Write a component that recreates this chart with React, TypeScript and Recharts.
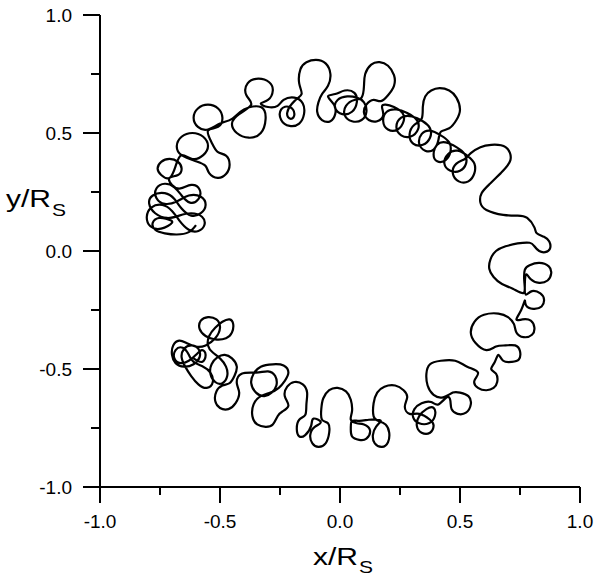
import React from "react";
import { LineChart, Line, XAxis, YAxis } from "recharts";

// trajectory, in units of R_S, start = upper-left knot
const upperKnot: [number, number][] = [
  [-0.6, 0.11], [-0.63, 0.08], [-0.68, 0.07], [-0.73, 0.075], [-0.77, 0.09], [-0.78, 0.12],
  [-0.755, 0.14], [-0.72, 0.135],
  [-0.70, 0.12], [-0.745, 0.095], [-0.79, 0.105], [-0.805, 0.145], [-0.785, 0.185], [-0.74, 0.195],
  [-0.70, 0.17], [-0.67, 0.13], [-0.63, 0.09], [-0.59, 0.085], [-0.565, 0.11], [-0.575, 0.145],
  [-0.62, 0.16], [-0.67, 0.15], [-0.72, 0.14], [-0.77, 0.16], [-0.795, 0.2], [-0.78, 0.235],
  [-0.73, 0.245], [-0.69, 0.22], [-0.66, 0.18], [-0.62, 0.15], [-0.58, 0.16], [-0.56, 0.195],
  [-0.58, 0.23], [-0.63, 0.235], [-0.68, 0.21], [-0.73, 0.2], [-0.765, 0.225], [-0.765, 0.265],
  [-0.73, 0.285], [-0.69, 0.27], [-0.66, 0.235], [-0.625, 0.205], [-0.59, 0.22], [-0.585, 0.26],
  [-0.62, 0.28], [-0.665, 0.265], [-0.70, 0.28], [-0.71, 0.31],
];

const upperLeftLoops: [number, number][] = [
  [-0.675, 0.322], [-0.66, 0.35], [-0.675, 0.378], [-0.71, 0.39], [-0.745, 0.378], [-0.76, 0.35],
  [-0.745, 0.322], [-0.71, 0.31], [-0.685, 0.36],
  [-0.66, 0.406], [-0.615, 0.39], [-0.57, 0.406], [-0.55, 0.445], [-0.57, 0.484], [-0.615, 0.5],
  [-0.66, 0.484], [-0.68, 0.445], [-0.66, 0.406], [-0.6, 0.38],
  [-0.56, 0.36], [-0.545, 0.33], [-0.51, 0.31], [-0.475, 0.326], [-0.46, 0.365], [-0.475, 0.404],
  [-0.51, 0.42], [-0.535, 0.46], [-0.55, 0.51],
  [-0.508, 0.526], [-0.49, 0.565], [-0.508, 0.604], [-0.55, 0.62], [-0.592, 0.604], [-0.61, 0.565],
  [-0.592, 0.526], [-0.55, 0.515], [-0.5, 0.54],
  [-0.45, 0.56], [-0.4, 0.6], [-0.33, 0.61], [-0.31, 0.56], [-0.33, 0.5], [-0.38, 0.48],
  [-0.43, 0.5], [-0.45, 0.54], [-0.42, 0.58], [-0.37, 0.62],
  [-0.39, 0.66], [-0.385, 0.71], [-0.34, 0.73], [-0.295, 0.715], [-0.28, 0.68], [-0.3, 0.64],
  [-0.33, 0.625], [-0.3, 0.61],
  [-0.26, 0.615], [-0.235, 0.64], [-0.19, 0.65], [-0.155, 0.625], [-0.15, 0.58], [-0.17, 0.54],
  [-0.21, 0.53], [-0.245, 0.555], [-0.245, 0.6], [-0.21, 0.61], [-0.19, 0.58], [-0.205, 0.56],
  [-0.22, 0.585], [-0.19, 0.635], [-0.16, 0.665],
];

const topLoops: [number, number][] = [
  [-0.17, 0.71], [-0.165, 0.77], [-0.14, 0.8], [-0.1, 0.81], [-0.06, 0.795], [-0.04, 0.75],
  [-0.05, 0.7], [-0.075, 0.665], [-0.09, 0.63],
  [-0.095, 0.59], [-0.075, 0.555], [-0.04, 0.55], [-0.02, 0.58], [-0.025, 0.62], [-0.05, 0.655],
  [-0.02, 0.665],
  [0.02, 0.68], [0.06, 0.67], [0.07, 0.63], [0.05, 0.59], [0.01, 0.58], [-0.02, 0.605],
  [-0.01, 0.64], [0.03, 0.655],
  [0.07, 0.65], [0.1, 0.63], [0.11, 0.59], [0.09, 0.555], [0.05, 0.55], [0.02, 0.575],
  [0.025, 0.615], [0.06, 0.64], [0.09, 0.65],
  [0.1, 0.7], [0.105, 0.75], [0.13, 0.79], [0.165, 0.8], [0.2, 0.785], [0.225, 0.745],
  [0.225, 0.7], [0.2, 0.66], [0.17, 0.635],
  [0.14, 0.64], [0.11, 0.62], [0.1, 0.585], [0.12, 0.555], [0.155, 0.55], [0.18, 0.575],
  [0.175, 0.61], [0.19, 0.62],
];

const upperRightLoops: [number, number][] = [
  [0.225, 0.61], [0.26, 0.585], [0.265, 0.55], [0.24, 0.515], [0.2, 0.515], [0.18, 0.55],
  [0.195, 0.59], [0.235, 0.6],
  [0.28, 0.585], [0.32, 0.555], [0.325, 0.515], [0.295, 0.485], [0.255, 0.49], [0.235, 0.525],
  [0.255, 0.565], [0.3, 0.57],
  [0.345, 0.55], [0.375, 0.52], [0.375, 0.48], [0.345, 0.45], [0.305, 0.455], [0.29, 0.495],
  [0.31, 0.535],
  [0.34, 0.56], [0.345, 0.61], [0.355, 0.655], [0.38, 0.68], [0.415, 0.69], [0.455, 0.68],
  [0.485, 0.65], [0.5, 0.6], [0.485, 0.555], [0.455, 0.52], [0.42, 0.505],
  [0.41, 0.47], [0.39, 0.43], [0.355, 0.425], [0.33, 0.455], [0.34, 0.495], [0.375, 0.51],
  [0.42, 0.49],
  [0.455, 0.46], [0.46, 0.42], [0.44, 0.385], [0.405, 0.38], [0.39, 0.41], [0.405, 0.45],
  [0.44, 0.46],
  [0.485, 0.44], [0.52, 0.41], [0.525, 0.37], [0.5, 0.34], [0.46, 0.34], [0.435, 0.37],
  [0.45, 0.41], [0.49, 0.425],
  [0.535, 0.4], [0.56, 0.37], [0.56, 0.33], [0.535, 0.295], [0.495, 0.295], [0.47, 0.33],
  [0.485, 0.37], [0.52, 0.39], [0.545, 0.415],
];

const rightSide: [number, number][] = [
  [0.585, 0.44], [0.63, 0.45], [0.69, 0.44], [0.71, 0.385], [0.67, 0.33], [0.625, 0.285],
  [0.59, 0.245], [0.585, 0.205], [0.61, 0.174], [0.68, 0.153], [0.74, 0.15], [0.78, 0.14],
  [0.81, 0.1], [0.82, 0.075],
  [0.85, 0.06], [0.872, 0.04], [0.875, 0.01], [0.855, -0.005], [0.83, 0.0], [0.81, 0.02],
  [0.79, 0.035],
  [0.74, 0.032], [0.69, 0.02], [0.65, 0.0], [0.627, -0.035], [0.622, -0.075], [0.64, -0.11],
  [0.675, -0.14], [0.72, -0.16], [0.765, -0.178],
  [0.768, -0.13], [0.77, -0.08], [0.79, -0.06], [0.83, -0.05], [0.87, -0.065], [0.88, -0.095],
  [0.865, -0.125], [0.83, -0.135], [0.795, -0.12], [0.775, -0.1], [0.77, -0.15], [0.775, -0.185],
  [0.8, -0.17], [0.835, -0.18], [0.85, -0.205], [0.84, -0.235], [0.805, -0.245], [0.775, -0.23],
  [0.77, -0.21], [0.755, -0.25], [0.735, -0.29],
];

const lowerRightLoops: [number, number][] = [
  [0.76, -0.29], [0.795, -0.295], [0.81, -0.325], [0.8, -0.355], [0.765, -0.365], [0.735, -0.345],
  [0.725, -0.31], [0.7, -0.28],
  [0.66, -0.265], [0.6, -0.27], [0.56, -0.3], [0.545, -0.345], [0.565, -0.39], [0.61, -0.42],
  [0.65, -0.405], [0.69, -0.4], [0.73, -0.4], [0.75, -0.425], [0.745, -0.46], [0.715, -0.47],
  [0.68, -0.465], [0.66, -0.44], [0.645, -0.47], [0.63, -0.5],
  [0.65, -0.52], [0.655, -0.555], [0.64, -0.58], [0.61, -0.59], [0.575, -0.58], [0.56, -0.55],
  [0.575, -0.515],
  [0.53, -0.49], [0.48, -0.465], [0.42, -0.465], [0.375, -0.48], [0.36, -0.52], [0.365, -0.57],
  [0.39, -0.61], [0.43, -0.62], [0.47, -0.6],
  [0.5, -0.6], [0.535, -0.615], [0.545, -0.65], [0.525, -0.685], [0.49, -0.69], [0.465, -0.67],
  [0.46, -0.635], [0.445, -0.62],
];

const bottomLoops: [number, number][] = [
  [0.41, -0.65], [0.38, -0.64], [0.34, -0.645], [0.31, -0.67], [0.305, -0.705], [0.33, -0.73],
  [0.37, -0.73], [0.395, -0.7], [0.39, -0.665], [0.36, -0.67], [0.33, -0.7], [0.32, -0.74],
  [0.34, -0.77], [0.375, -0.77], [0.39, -0.74], [0.375, -0.715], [0.33, -0.69], [0.29, -0.69],
  [0.27, -0.66], [0.28, -0.62], [0.265, -0.59], [0.23, -0.57], [0.185, -0.575], [0.155, -0.6],
  [0.14, -0.645], [0.14, -0.7], [0.16, -0.72],
  [0.19, -0.735], [0.205, -0.77], [0.2, -0.81], [0.175, -0.83], [0.145, -0.815], [0.137, -0.78],
  [0.15, -0.745], [0.17, -0.72], [0.15, -0.715],
  [0.12, -0.715], [0.08, -0.72], [0.05, -0.72], [0.045, -0.75], [0.05, -0.785], [0.08, -0.8],
  [0.11, -0.795], [0.125, -0.76], [0.1, -0.735], [0.07, -0.73],
  [0.045, -0.715], [0.05, -0.68], [0.045, -0.63], [0.025, -0.595], [-0.01, -0.58], [-0.045, -0.59],
  [-0.07, -0.625], [-0.078, -0.67], [-0.075, -0.715],
  [-0.05, -0.73], [-0.045, -0.77], [-0.06, -0.815], [-0.09, -0.83], [-0.115, -0.815], [-0.124, -0.78],
  [-0.105, -0.745], [-0.08, -0.725],
  [-0.11, -0.71], [-0.12, -0.74], [-0.145, -0.78], [-0.17, -0.785], [-0.18, -0.755], [-0.17, -0.715],
  [-0.145, -0.695],
  [-0.14, -0.65], [-0.137, -0.6], [-0.155, -0.565], [-0.19, -0.555], [-0.22, -0.575], [-0.23, -0.615],
  [-0.215, -0.655], [-0.24, -0.68],
];

const lowerKnot: [number, number][] = [
  [-0.26, -0.7], [-0.28, -0.735], [-0.31, -0.745], [-0.345, -0.735], [-0.365, -0.7], [-0.36, -0.65],
  [-0.33, -0.615], [-0.29, -0.6], [-0.255, -0.58], [-0.23, -0.55], [-0.215, -0.515], [-0.235, -0.485],
  [-0.28, -0.48], [-0.33, -0.49], [-0.36, -0.52], [-0.37, -0.56], [-0.35, -0.6], [-0.315, -0.615],
  [-0.285, -0.6], [-0.265, -0.57], [-0.27, -0.53], [-0.3, -0.51], [-0.35, -0.515], [-0.41, -0.52],
  [-0.43, -0.56], [-0.42, -0.6], [-0.435, -0.645], [-0.465, -0.67], [-0.5, -0.665], [-0.52, -0.635],
  [-0.515, -0.595], [-0.49, -0.57], [-0.46, -0.56], [-0.44, -0.53],
  [-0.43, -0.49], [-0.45, -0.455], [-0.48, -0.44], [-0.51, -0.45], [-0.535, -0.48], [-0.54, -0.52],
  [-0.52, -0.555], [-0.49, -0.56], [-0.47, -0.53], [-0.475, -0.49], [-0.5, -0.455], [-0.53, -0.43],
  [-0.55, -0.4], [-0.545, -0.36], [-0.52, -0.325], [-0.49, -0.3], [-0.46, -0.29], [-0.445, -0.31],
  [-0.45, -0.345], [-0.475, -0.37], [-0.52, -0.375], [-0.56, -0.36], [-0.585, -0.33], [-0.58, -0.295],
  [-0.55, -0.28], [-0.515, -0.29], [-0.5, -0.325], [-0.52, -0.37], [-0.56, -0.4], [-0.6, -0.405],
  [-0.64, -0.39], [-0.67, -0.38], [-0.695, -0.4], [-0.7, -0.44], [-0.685, -0.475], [-0.65, -0.49],
  [-0.61, -0.48], [-0.585, -0.45], [-0.59, -0.415], [-0.62, -0.4], [-0.65, -0.415], [-0.66, -0.45],
  [-0.645, -0.49], [-0.62, -0.53], [-0.59, -0.565], [-0.555, -0.58], [-0.53, -0.555], [-0.54, -0.515],
  [-0.57, -0.49], [-0.61, -0.47], [-0.63, -0.44],
  [-0.655, -0.41], [-0.685, -0.42], [-0.69, -0.455], [-0.665, -0.475], [-0.63, -0.465], [-0.6, -0.44],
  [-0.575, -0.42], [-0.56, -0.44], [-0.575, -0.47], [-0.61, -0.455],
];

const ticks = [-1, -0.75, -0.5, -0.25, 0, 0.25, 0.5, 0.75, 1];

const path = [
  ...upperKnot,
  ...upperLeftLoops,
  ...topLoops,
  ...upperRightLoops,
  ...rightSide,
  ...lowerRightLoops,
  ...bottomLoops,
  ...lowerKnot,
];
const data = path.map(([x, y]) => ({ x, y }));

const FONT = "'Liberation Sans', Arial, Helvetica, sans-serif";
const isMajor = (v: number) => Math.abs(v * 2 - Math.round(v * 2)) < 1e-9;

const XTick = (props: any) => {
  const { x, y, payload } = props;
  const major = isMajor(payload.value);
  return (
    <g>
      <line x1={x} y1={y} x2={x} y2={y + (major ? 16 : 8)} stroke="#000" strokeWidth={2} />
      {major && (
        <text x={x} y={y + 41} textAnchor="middle" fontSize={19} fontFamily={FONT} fill="#000">
          {payload.value.toFixed(1)}
        </text>
      )}
    </g>
  );
};

const YTick = (props: any) => {
  const { x, y, payload } = props;
  const major = isMajor(payload.value);
  return (
    <g>
      <line x1={x - (major ? 17 : 9)} y1={y} x2={x} y2={y} stroke="#000" strokeWidth={2} />
      {major && (
        <text x={x - 28} y={y + 7} textAnchor="end" fontSize={19} fontFamily={FONT} fill="#000">
          {payload.value.toFixed(1)}
        </text>
      )}
    </g>
  );
};

const XTitle = () => (
  <g fontFamily={FONT} fill="#000">
    <text x={313} y={565} fontSize={23} textLength={45} lengthAdjust="spacingAndGlyphs">
      x/R
    </text>
    <text x={359} y={573} fontSize={17} textLength={14} lengthAdjust="spacingAndGlyphs">
      S
    </text>
  </g>
);

const YTitle = () => (
  <g fontFamily={FONT} fill="#000">
    <text x={6} y={207} fontSize={23} textLength={45} lengthAdjust="spacingAndGlyphs">
      y/R
    </text>
    <text x={52} y={216} fontSize={17} textLength={14} lengthAdjust="spacingAndGlyphs">
      S
    </text>
  </g>
);

export default function App() {
  return (
    <div style={{ position: "absolute", left: 0, top: 0, width: 596, height: 580, background: "#fff" }}>
      <LineChart
        width={596}
        height={580}
        data={data}
        margin={{ top: 15, right: 16, bottom: 63, left: 40 }}
      >
        <XAxis
          dataKey="x"
          type="number"
          domain={[-1, 1]}
          ticks={ticks}
          interval={0}
          height={30}
          tickSize={0}
          tickMargin={0}
          tickLine={false}
          tick={<XTick />}
          axisLine={{ stroke: "#000", strokeWidth: 2 }}
          allowDataOverflow
          label={{ content: () => <XTitle /> }}
        />
        <YAxis
          type="number"
          domain={[-1, 1]}
          ticks={ticks}
          interval={0}
          width={60}
          tickSize={0}
          tickMargin={0}
          tickLine={false}
          tick={<YTick />}
          axisLine={{ stroke: "#000", strokeWidth: 2 }}
          allowDataOverflow
          label={{ content: () => <YTitle /> }}
        />
        <Line
          dataKey="y"
          type="natural"
          stroke="#000"
          strokeWidth={2.2}
          dot={false}
          activeDot={false}
          isAnimationActive={false}
        />
      </LineChart>
    </div>
  );
}
